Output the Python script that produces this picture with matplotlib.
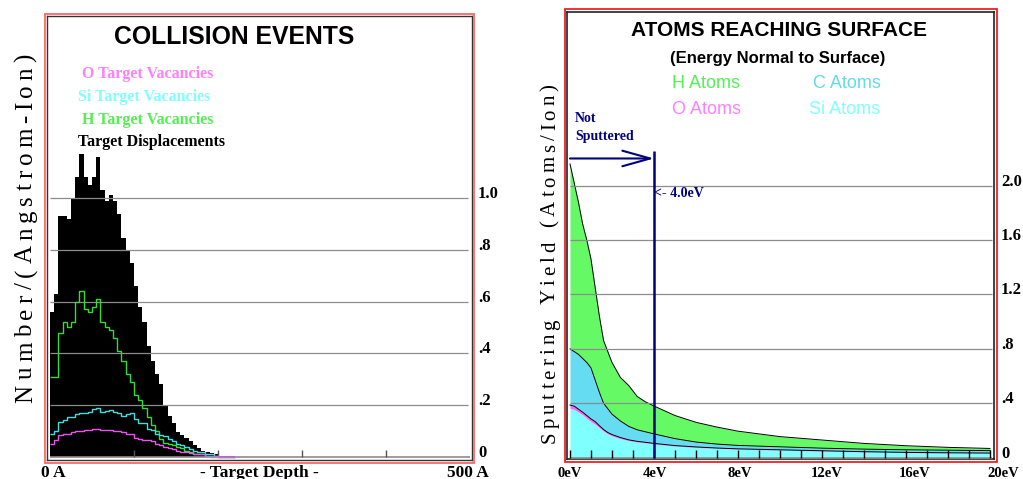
import numpy as np
import matplotlib
matplotlib.use("Agg")
import matplotlib.pyplot as plt
import matplotlib.transforms as mtransforms
from matplotlib.patches import Rectangle
from matplotlib.font_manager import FontProperties
from matplotlib.textpath import TextPath

# ---------------- data: collision events (5 A bins) ----------------
bin_width_a = 5.0
displacements = [0.56, 0.63, 0.93, 0.93, 0.92, 1.00, 1.08, 1.17, 1.08, 1.05,
                 1.08, 1.16, 1.03, 0.99, 1.01, 0.99, 0.94, 0.845, 0.80, 0.75,
                 0.66, 0.58, 0.52, 0.43, 0.37, 0.32, 0.28, 0.20, 0.16, 0.13,
                 0.095, 0.085, 0.075, 0.06, 0.045, 0.035, 0.025, 0.02, 0.015, 0.01,
                 0.005, 0.005, 0.005, 0.005]
h_vacancies = [0.31, 0.31, 0.48, 0.52, 0.50, 0.52, 0.60, 0.64, 0.57, 0.56,
               0.58, 0.61, 0.52, 0.50, 0.49, 0.46, 0.41, 0.37, 0.32, 0.29,
               0.24, 0.22, 0.19, 0.155, 0.125, 0.10, 0.07, 0.055, 0.05, 0.045,
               0.04, 0.035, 0.025, 0.02, 0.01, 0.01, 0.01, 0.005, 0.0, 0.0,
               0.0, 0.0, 0.0, 0.0]
si_vacancies = [0.09, 0.10, 0.135, 0.143, 0.155, 0.155, 0.165, 0.17, 0.17, 0.175,
                0.185, 0.19, 0.175, 0.178, 0.18, 0.175, 0.17, 0.16, 0.165, 0.17,
                0.145, 0.13, 0.13, 0.11, 0.105, 0.09, 0.085, 0.08, 0.07, 0.06,
                0.05, 0.045, 0.04, 0.03, 0.025, 0.02, 0.02, 0.01, 0.01, 0.005,
                0.0, 0.0, 0.0, 0.0]
o_vacancies = [0.05, 0.065, 0.085, 0.09, 0.09, 0.095, 0.10, 0.10, 0.105, 0.105,
               0.108, 0.11, 0.105, 0.105, 0.105, 0.10, 0.10, 0.095, 0.09, 0.09,
               0.075, 0.07, 0.065, 0.065, 0.06, 0.05, 0.045, 0.04, 0.035, 0.03,
               0.025, 0.02, 0.02, 0.015, 0.01, 0.01, 0.01, 0.005, 0.005, 0.005,
               0.0, 0.0, 0.0, 0.0]
depth_ticks = [100, 200, 300, 400]
left_yticks = [0, 0.2, 0.4, 0.6, 0.8, 1.0]
left_ytick_labels = ["0", ".2", ".4", ".6", ".8", "1.0"]

# ---------------- data: atoms reaching surface ----------------
energy_ev = [0, 0.2, 0.4, 0.6, 0.8, 1.0, 1.2, 1.4, 1.6, 1.8, 2.0, 2.4, 2.8,
             3.2, 3.6, 4.0, 5, 6, 7, 8, 10, 12, 14, 16, 18, 20]
si_atoms = [0.363, 0.355, 0.335, 0.315, 0.29, 0.265, 0.245, 0.22, 0.195, 0.175,
            0.16, 0.14, 0.125, 0.115, 0.108, 0.10, 0.085, 0.075, 0.068, 0.062,
            0.055, 0.048, 0.042, 0.037, 0.034, 0.032]
o_atoms = [0.024, 0.024, 0.022, 0.02, 0.02, 0.02, 0.02, 0.015, 0.012, 0.01,
           0.01, 0.008, 0.006, 0.005, 0.005, 0.005, 0.004, 0.004, 0.003, 0.003,
           0.003, 0.003, 0.002, 0.002, 0.002, 0.002]
c_atoms = [0.413, 0.401, 0.403, 0.395, 0.39, 0.375, 0.305, 0.245, 0.193, 0.175,
           0.15, 0.122, 0.099, 0.085, 0.077, 0.07, 0.051, 0.036, 0.029, 0.025,
           0.022, 0.019, 0.019, 0.019, 0.019, 0.018]
h_atoms = [1.36, 1.24, 1.12, 0.99, 0.90, 0.80, 0.68, 0.56, 0.46, 0.42,
           0.38, 0.32, 0.30, 0.245, 0.22, 0.205, 0.17, 0.145, 0.125, 0.105,
           0.075, 0.06, 0.042, 0.03, 0.021, 0.016]
threshold_ev = 4.0
right_yticks = [0, 0.4, 0.8, 1.2, 1.6, 2.0]
right_ytick_labels = ["0", ".4", ".8", "1.2", "1.6", "2.0"]
energy_labels = ["0eV", "4eV", "8eV", "12eV", "16eV", "20eV"]

# ---------------- layout helpers (pixels) ----------------
W, H = 1023, 479
DPI = 100


def fx(px):
    return px / W


def fy(py):
    return 1 - py / H


SERIF = "Liberation Serif"
SANS = "Liberation Sans"
NAVY = "#000080"
GRID = "#8c8c8c"

fig = plt.figure(figsize=(W / DPI, H / DPI), dpi=DPI)
fig.patch.set_facecolor("white")


def spaced_vertical(text, x_base, y_start, y_end, size, family):
    """Rotated label with wide letter spacing, reading bottom to top."""
    fp = FontProperties(family=family, size=size)
    widths = []
    for ch in text:
        if ch == " ":
            widths.append(size * 0.3 * DPI / 72)
        else:
            ext = TextPath((0, 0), ch, size=size, prop=fp).get_extents()
            widths.append(ext.width * DPI / 72)
    track = ((y_start - y_end) - sum(widths)) / (len(text) - 1)
    pos = y_start
    for ch, w in zip(text, widths):
        if ch != " ":
            fig.text(fx(x_base), fy(pos - w / 2), ch, rotation=90,
                     rotation_mode="anchor", ha="center", va="baseline",
                     fontsize=size, family=family, color="black")
        pos -= w + track


def frame(x0, y0, x1, y1, color, lw):
    fig.add_artist(Rectangle((fx(x0), fy(y1)), fx(x1) - fx(x0), fy(y0) - fy(y1),
                             transform=fig.transFigure, fill=False,
                             edgecolor=color, linewidth=lw))


# ================= left panel =================
axL = fig.add_axes([fx(47), fy(460), (472 - 47) / W, (460 - 16) / H])
axL.set_xlim(-3.57, 502.4)
axL.set_ylim(-0.0116, 1.7027)
axL.set_xticks([])
axL.set_yticks([])
for sp in axL.spines.values():
    sp.set_color("#333333")
    sp.set_linewidth(1.0)

edges = np.arange(len(displacements) + 1) * bin_width_a
axL.stairs(displacements, edges, fill=True, color="black", zorder=1)
axL.hlines(left_yticks[1:], 0, 497.6, colors=GRID, linewidth=0.9, zorder=2)
axL.hlines(0, 0, 500, colors=GRID, linewidth=1.2, zorder=2)
axL.vlines(depth_ticks, 0, 0.027, colors="#555555", linewidth=1.0, zorder=2)
axL.stairs(h_vacancies, edges, baseline=None, color="#33dd33", linewidth=1.0, zorder=3)
axL.stairs(si_vacancies, edges, baseline=None, color="#44dddd", linewidth=1.0, zorder=3)
axL.stairs(o_vacancies, edges, baseline=None, color="#ee55ee", linewidth=1.0, zorder=3)

transL = mtransforms.offset_copy(
    mtransforms.blended_transform_factory(fig.transFigure, axL.transData),
    fig=fig, y=4, units="dots")
for v, lab in zip(left_yticks, left_ytick_labels):
    fig.text(fx(478), v, lab, transform=transL, ha="left", va="center",
             fontsize=12, family=SERIF, weight="bold")

fig.text(fx(234), fy(37), "COLLISION EVENTS", ha="center", va="center",
         fontsize=17.8, family=SANS, weight="bold")
legendL = [("O Target Vacancies", "#ff80ff", 82, 74),
           ("Si Target Vacancies", "#80ffff", 78, 97),
           ("H Target Vacancies", "#55ee55", 82, 120),
           ("Target Displacements", "black", 78, 142)]
for txt, col, px, py in legendL:
    fig.text(fx(px), fy(py), txt, ha="left", va="center", fontsize=11.5,
             family=SERIF, weight="bold", color=col)

fig.text(fx(53), fy(477), "0 A", ha="center", va="baseline", fontsize=12.5,
         family=SERIF, weight="bold")
fig.text(fx(259), fy(477), "- Target Depth -", ha="center", va="baseline",
         fontsize=12.5, family=SERIF, weight="bold")
fig.text(fx(468), fy(477), "500 A", ha="center", va="baseline", fontsize=12.5,
         family=SERIF, weight="bold")
spaced_vertical("Number/(Angstrom-Ion)", 32, 402, 55, 18, SERIF)
frame(45, 14, 474, 463, "#ff6666", 1.3)

# ================= right panel =================
axR = fig.add_axes([fx(567), fy(459), (994 - 567) / W, (459 - 12) / H])
axR.set_xlim(-0.143, 20.19)
axR.set_ylim(-0.0096, 3.277)
axR.set_xticks([])
axR.set_yticks([])
for sp in axR.spines.values():
    sp.set_color("#222222")
    sp.set_linewidth(1.2)

e = np.array(energy_ev)
layer_si = np.array(si_atoms)
layer_o = layer_si + np.array(o_atoms)
layer_c = layer_o + np.array(c_atoms)
layer_h = layer_c + np.array(h_atoms)
axR.fill_between(e, 0, layer_si, color="#80ffff", linewidth=0, zorder=1)
axR.fill_between(e, layer_si, layer_o, color="#ff66ff", linewidth=0, zorder=1)
axR.fill_between(e, layer_o, layer_c, color="#66dcf2", linewidth=0, zorder=1)
axR.fill_between(e, layer_c, layer_h, color="#66f966", linewidth=0, zorder=1)
for top in (layer_o, layer_c, layer_h):
    axR.plot(e, top, color="black", linewidth=0.7, zorder=2)

axR.hlines(right_yticks[1:], 0, 20.08, colors=GRID, linewidth=0.9, zorder=3)
axR.hlines(0, 0, 20.08, colors=GRID, linewidth=1.2, zorder=3)
axR.vlines(np.arange(0, 21), 0, 0.059, colors="black", linewidth=1.0, zorder=3)

axR.vlines(threshold_ev, 0, 2.255, colors=NAVY, linewidth=1.8, zorder=4)
axR.annotate("", xy=(threshold_ev, 2.20), xytext=(0, 2.20),
             arrowprops=dict(arrowstyle="->,head_length=1.0,head_width=0.28",
                             color=NAVY, linewidth=1.5, mutation_scale=20,
                             shrinkA=0, shrinkB=0),
             zorder=4)
axR.text(threshold_ev, 1.94, "<- 4.0eV", ha="left", va="center", fontsize=10,
         family=SERIF, weight="bold", color=NAVY, zorder=5)
fig.text(fx(575), fy(118), "Not", ha="left", va="center", fontsize=10,
         family=SERIF, weight="bold", color=NAVY)
fig.text(fx(575), fy(137), "Sputtered", ha="left", va="center", fontsize=10,
         family=SERIF, weight="bold", color=NAVY)

transR = mtransforms.offset_copy(
    mtransforms.blended_transform_factory(fig.transFigure, axR.transData),
    fig=fig, y=4, units="dots")
for v, lab in zip(right_yticks, right_ytick_labels):
    fig.text(fx(1001), v, lab, transform=transR, ha="left", va="center",
             fontsize=12, family=SERIF, weight="bold")

for lab, px in zip(energy_labels, [570, 655, 740, 827, 915, 1003]):
    fig.text(fx(px), fy(477), lab, ha="center", va="baseline", fontsize=10.5,
             family=SERIF, weight="bold")

fig.text(fx(779), fy(31), "ATOMS REACHING SURFACE", ha="center", va="center",
         fontsize=15, family=SANS, weight="bold")
fig.text(fx(778), fy(58), "(Energy Normal to Surface)", ha="center", va="center",
         fontsize=12, family=SANS, weight="bold")
legendR = [("H Atoms", "#55f055", 672, 84), ("C Atoms", "#66d8f0", 813, 84),
           ("O Atoms", "#ff80ff", 672, 109), ("Si Atoms", "#80ffff", 809, 109)]
for txt, col, px, py in legendR:
    fig.text(fx(px), fy(py), txt, ha="left", va="center", fontsize=13,
             family=SANS, color=col)

spaced_vertical("Sputtering Yield (Atoms/Ion)", 555, 441.7, 85, 15, SERIF)
frame(565, 9, 997, 462, "#ee2222", 1.3)

fig.savefig("out.png", dpi=DPI)
